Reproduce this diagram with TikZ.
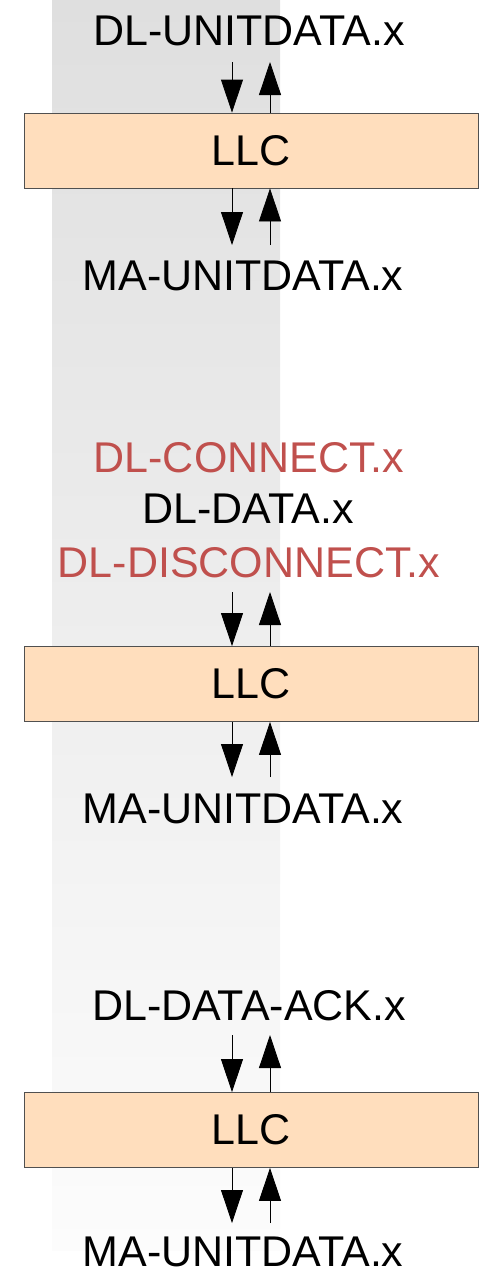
\documentclass[tikz,border=0pt]{standalone}
\usepackage{fontspec}
\setmainfont{Liberation Sans}
\usepackage{xcolor}
\usepackage{tikz}
\usetikzlibrary{arrows.meta, positioning, calc}
\definecolor{llcpeach}{RGB}{255, 222, 189}
\definecolor{llcedge}{RGB}{80, 80, 80}
\definecolor{primred}{RGB}{192, 80, 77}
\definecolor{bandtop}{RGB}{223, 223, 223}
\definecolor{bandbot}{RGB}{252, 252, 252}

\begin{document}
\begin{tikzpicture}[x=1pt, y=-1pt,
  llcbox/.style={draw=llcedge, fill=llcpeach, line width=0.8pt,
    minimum width=454pt, minimum height=75pt, inner sep=0pt,
    font=\fontsize{43}{50}\selectfont},
  prim/.style={anchor=base, inner sep=0pt, font=\fontsize{43}{50}\selectfont},
  sap/.style={-{Triangle[length=33pt, width=22pt]}, line width=0.8pt}]

  \useasboundingbox (0,0) rectangle (480,1270);

  % --- gray band behind the service access points ---
  \shade[top color=bandtop, bottom color=bandbot] (52,0) rectangle (280,1250);

  % --- first stack: unacknowledged connectionless ---
  \node[prim] (dlunit) at (249,45) {DL-UNITDATA.x};
  \node[llcbox] (llcA) at (251,150.5) {LLC};
  \node[prim] (maA) at (243,290) {MA-UNITDATA.x};

  \coordinate (dnA) at (232,62);
  \coordinate (upA) at (270,245);
  \draw[sap] (dnA) -- (dnA |- llcA.north);
  \draw[sap] (upA |- llcA.north) -- (upA |- dnA);
  \draw[sap] (dnA |- llcA.south) -- (dnA |- upA);
  \draw[sap] (upA) -- (upA |- llcA.south);

  % --- second stack: connection oriented ---
  \node[prim, text=primred] (dlconn) at (249,472) {DL-CONNECT.x};
  \node[prim] (dldata) at (248,523) {DL-DATA.x};
  \node[prim, text=primred] (dldisc) at (249,577) {DL-DISCONNECT.x};
  \node[llcbox] (llcB) at (251,684) {LLC};
  \node[prim] (maB) at (243,823) {MA-UNITDATA.x};

  \coordinate (dnB) at (232,592);
  \coordinate (upB) at (270,777);
  \draw[sap] (dnB) -- (dnB |- llcB.north);
  \draw[sap] (upB |- llcB.north) -- (upB |- dnB);
  \draw[sap] (dnB |- llcB.south) -- (dnB |- upB);
  \draw[sap] (upB) -- (upB |- llcB.south);

  % --- third stack: acknowledged connectionless ---
  \node[prim] (dlack) at (249,1020) {DL-DATA-ACK.x};
  \node[llcbox] (llcC) at (251,1130) {LLC};
  \node[prim] (maC) at (243,1266) {MA-UNITDATA.x};

  \coordinate (dnC) at (232,1035);
  \coordinate (upC) at (270,1223);
  \draw[sap] (dnC) -- (dnC |- llcC.north);
  \draw[sap] (upC |- llcC.north) -- (upC |- dnC);
  \draw[sap] (dnC |- llcC.south) -- (dnC |- upC);
  \draw[sap] (upC) -- (upC |- llcC.south);

\end{tikzpicture}
\end{document}
